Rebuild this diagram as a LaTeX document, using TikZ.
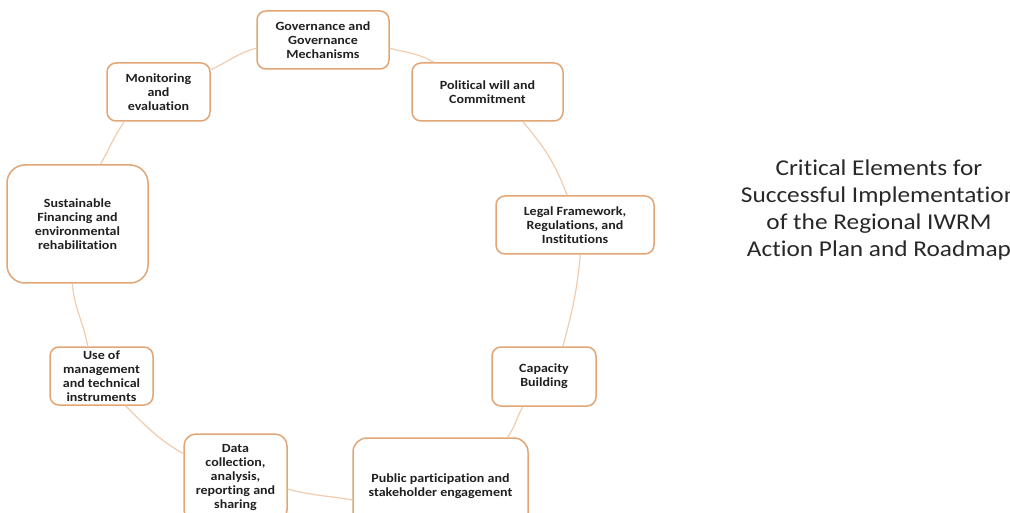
\documentclass[tikz,border=0pt]{standalone}
\usepackage{fontspec}
\setmainfont{Carlito}
\newfontfamily\boxfont[FakeStretch=1.12, Ligatures=NoCommon]{Carlito}
\definecolor{boxline}{RGB}{226,166,118}
\definecolor{ringline}{RGB}{240,204,176}
\definecolor{txt}{RGB}{32,32,32}
\definecolor{titletxt}{RGB}{40,40,40}
\begin{document}
\begin{tikzpicture}[x=1pt,y=-1pt,
  box/.style={draw=boxline, line width=1.5pt, rounded corners=9pt, fill=white,
    align=center, inner sep=0pt, text=txt,
    font=\boxfont\bfseries\fontsize{12.5}{14}\selectfont},
  link/.style={draw=ringline, line width=1.2pt},
  titlestyle/.style={align=center, inner sep=0pt, text=titletxt,
    font=\boxfont\fontsize{22.6}{27.3}\selectfont}]
\useasboundingbox (0,0) rectangle (1010,513);
\clip (0,0) rectangle (1010,513);
\fill[white] (0,0) rectangle (1010,513);

\node[box, minimum width=132pt, minimum height=58pt] (gov) at (323,40) {Governance and\\Governance\\Mechanisms};
\node[box, minimum width=103pt, minimum height=58pt] (mon) at (158.5,92) {Monitoring\\and\\evaluation};
\node[box, minimum width=151pt, minimum height=58pt] (pol) at (487.5,92) {Political will and\\Commitment};
\node[box, minimum width=141pt, minimum height=118pt, rounded corners=18pt] (sus) at (77.5,224) {Sustainable\\Financing and\\environmental\\rehabilitation};
\node[box, minimum width=158pt, minimum height=58pt] (leg) at (575,225) {Legal Framework,\\Regulations, and\\Institutions};
\node[box, minimum width=103pt, minimum height=58pt] (use) at (101.5,376) {Use of\\management\\and technical\\instruments};
\node[box, minimum width=104pt, minimum height=59pt] (cap) at (544,376.5) {Capacity\\Building};
\node[box, minimum width=103pt, minimum height=88pt, rounded corners=12pt] (dat) at (235.5,478) {Data\\collection,\\analysis,\\reporting and\\sharing};
\node[box, minimum width=175pt, minimum height=96pt, rounded corners=14pt] (pub) at (440.5,486) {Public participation and\\stakeholder engagement};

\node[titlestyle] (title) at (879,210) {Critical Elements for\\Successful Implementation\\of the Regional IWRM\\Action Plan and Roadmap};

\draw[link] (gov.-7) to[out=-15, in=150] (pol.151);
\draw[link] (pol.-40) to[out=-50, in=110] (leg.105);
\draw[link] (leg.-80) to[out=-95, in=75] (cap.58);
\draw[link] (cap.-125) to[out=-120, in=55] (pub.36);
\draw[link] (pub.-171) to[out=170, in=-15] (dat.-12);
\draw[link] (dat.155) to[out=150, in=-45] (use.-51);
\draw[link] (use.115) to[out=100, in=-85] (sus.-95);
\draw[link] (sus.69) to[out=60, in=-125] (mon.-139);
\draw[link] (mon.23) to[out=25, in=-165] (gov.-173);
\end{tikzpicture}
\end{document}
